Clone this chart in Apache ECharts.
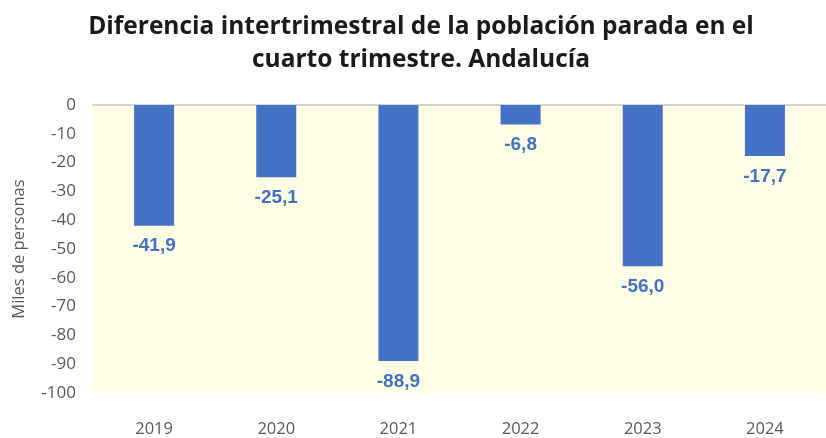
<!DOCTYPE html>
<html><head><meta charset="utf-8">
<script src="https://cdn.jsdelivr.net/npm/echarts@6/dist/echarts.min.js"></script>
<style>html,body{margin:0;padding:0;background:#fff}#c{width:826px;height:438px}</style>
</head><body><div id="c"></div>
<script>
const categories = ['2019','2020','2021','2022','2023','2024'];
const values = [-41.9, -25.1, -88.9, -6.8, -56.0, -17.7];
const yTicks = {min: -100, max: 0, interval: 10};
const titleText = 'Diferencia intertrimestral de la población parada en el\ncuarto trimestre. Andalucía';
const yName = 'Miles de personas';

const chart = echarts.init(document.getElementById('c'));
chart.setOption({
  animation: false,
  title: {text: titleText, left: 416, textAlign: 'center', top: 6,
    textStyle: {fontFamily: 'Open Sans', fontWeight: 'bold', fontSize: 24.5, color: '#1a1a1a', lineHeight: 33}},
  grid: {left: 93, top: 105, width: 748, height: 290, backgroundColor: '#FEFDE6', show: true, borderWidth: 0},
  xAxis: [{type: 'category', data: categories, position: 'bottom',
    axisLine: {show: false, onZero: false}, axisTick: {show: false},
    axisLabel: {color: '#595959', fontSize: 16.5, fontFamily: 'Open Sans', margin: 28}},
    {type: 'category', data: categories, position: 'top', axisLine: {show: true, onZero: false, lineStyle: {color: '#c8c8c8', width: 1.5}},
    axisTick: {show: false}, axisLabel: {show: false}}],
  yAxis: {type: 'value', min: yTicks.min, max: yTicks.max, interval: yTicks.interval,
    name: yName, nameLocation: 'middle', nameGap: 65, nameRotate: 90,
    nameTextStyle: {color: '#595959', fontSize: 16.5, fontFamily: 'Open Sans'},
    axisLine: {show: false}, axisTick: {show: false}, splitLine: {show: false},
    axisLabel: {color: '#595959', fontSize: 17, fontFamily: 'Open Sans', margin: 17}},
  series: [{type: 'bar', data: values, barWidth: 40, itemStyle: {color: '#4472C4'},
    label: {show: true, position: 'bottom', distance: 11, color: '#4472C4', fontWeight: 'bold', fontSize: 19, fontFamily: 'Arial',
      formatter: p => p.value.toFixed(1).replace('.', ',')}}]
});
</script></body></html>
